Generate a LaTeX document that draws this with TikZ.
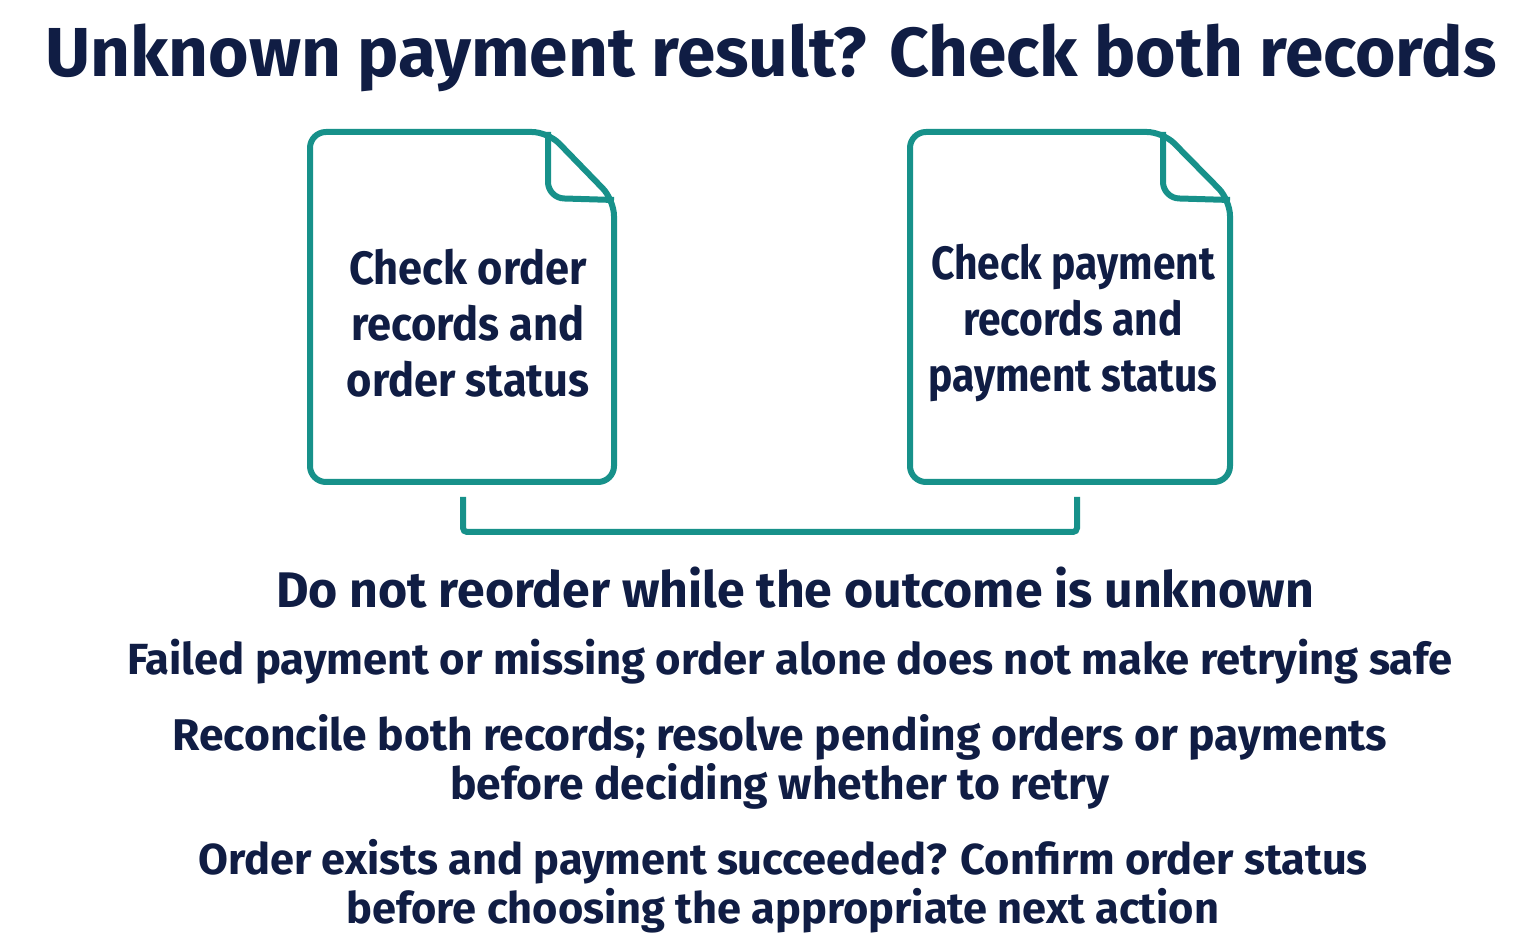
\documentclass[tikz,border=0pt]{standalone}
\usepackage{fontspec}
\setmainfont{Fira Sans}
\begin{document}
\begin{tikzpicture}[x=0.75pt,y=-0.75pt,
  ink/.style={text=navy,font=\bfseries},
  doc/.style={draw=teal2,line width=4.5pt,rounded corners=12pt,line join=round},
  body/.style={ink,font=\bfseries\fontsize{33}{37}\selectfont,align=center},
  boxt/.style={ink,font=\bfseries\fontsize{35}{42}\selectfont,align=center,xscale=0.93}]
\definecolor{navy}{HTML}{101D44}
\definecolor{teal2}{HTML}{17918A}
\fill[white] (0,0) rectangle (1536,944);
\useasboundingbox (0,0) rectangle (1536,944);
\node[ink,font=\bfseries\fontsize{52}{60}\selectfont] (title) at (771,58) {Unknown payment result? Check both records};
% left document
\draw[doc] (310,132) -- (548,132) -- (614,200) -- (614,482) -- (310,482) -- cycle;
\draw[doc] (548,132) -- (548,198) -- (614,200);
\node[boxt] (lt) at (468,323) {Check order\\records and\\order status};
% right document
\draw[doc] (910,132) -- (1163,132) -- (1230,200) -- (1230,482) -- (910,482) -- cycle;
\draw[doc] (1163,132) -- (1163,198) -- (1230,200);
\node[boxt,xscale=0.94] (rt) at (1073,323) {Check payment\\records and\\payment status};
% bracket
\coordinate (b1) at (463,497); \coordinate (b2) at (1077,497);
\draw[teal2,line width=4.5pt,rounded corners=3pt] (b1) -- (463,532) -- (1077,532) -- (b2);
\node[body,font=\bfseries\fontsize{37.5}{40}\selectfont] (t1) at (795,588) {Do not reorder while the outcome is unknown};
\node[body,font=\bfseries\fontsize{32.7}{37}\selectfont] (t2) at (790,662) {Failed payment or missing order alone does not make retrying safe};
\node[body,font=\bfseries\fontsize{33.3}{37}\selectfont] (t3) at (780,762) {Reconcile both records; resolve pending orders or payments\\before deciding whether to retry};
\node[body,font=\bfseries\fontsize{32.5}{37}\selectfont] (t4) at (783,886) {Order exists and payment succeeded? Confirm order status\\before choosing the appropriate next action};
\end{tikzpicture}
\end{document}
